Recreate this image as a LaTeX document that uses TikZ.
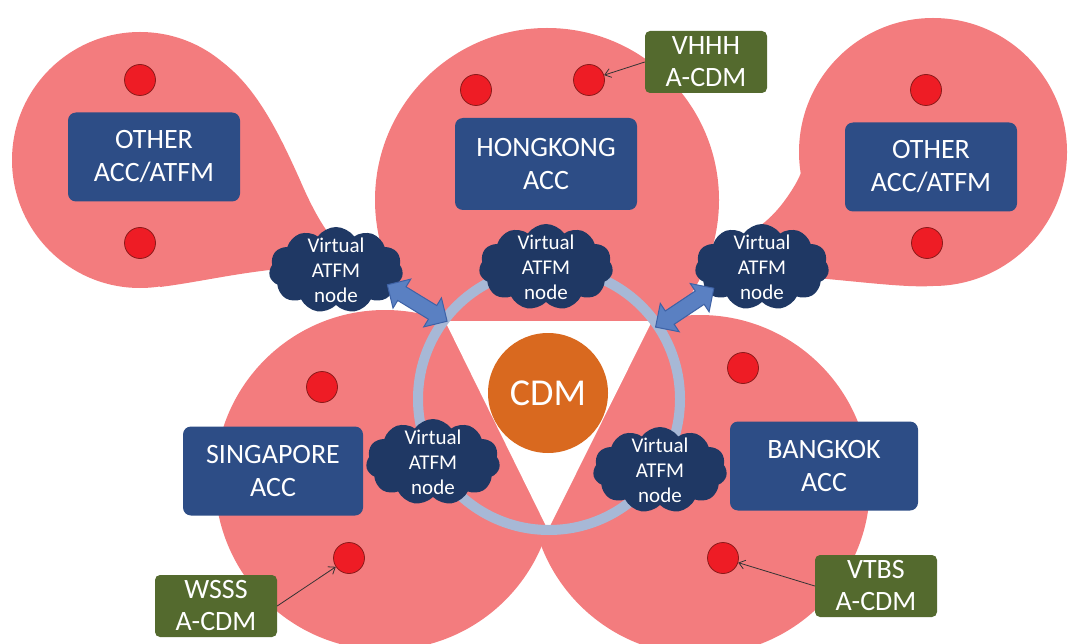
\documentclass[tikz,border=0pt]{standalone}
\usepackage{fontspec}
\setmainfont{Carlito}
\usepackage{tikz}
\usetikzlibrary{shapes.symbols,shapes.arrows,arrows.meta}
\definecolor{figpink}{HTML}{F37C7E}
\definecolor{figbox}{HTML}{2D4D86}
\definecolor{figcloud}{HTML}{1F3864}
\definecolor{figgreen}{HTML}{546A2E}
\definecolor{figorange}{HTML}{D9691F}
\definecolor{figdot}{HTML}{EE1C25}
\definecolor{figdotline}{HTML}{8B1A1A}
\definecolor{figring}{HTML}{A7B8D6}
\definecolor{figarrow}{HTML}{5A80C2}
\definecolor{figarrowline}{HTML}{3E62A6}
\tikzset{
  accbox/.style={rectangle,rounded corners=8,fill=figbox,text=white,align=center,
    inner sep=0,minimum height=89,font=\fontsize{28}{33}\selectfont},
  acdm/.style={rectangle,rounded corners=5,fill=figgreen,text=white,align=center,
    inner sep=0,minimum width=122,minimum height=62,font=\fontsize{28}{32}\selectfont},
  vnode/.style={cloud,cloud puffs=11,cloud puff arc=110,cloud ignores aspect,fill=figcloud,
    text=white,align=center,inner xsep=-16,inner ysep=-25,minimum width=134,minimum height=86,
    font=\fontsize{21}{25}\selectfont},
  dot/.style={circle,fill=figdot,draw=figdotline,line width=0.8,minimum size=31,inner sep=0},
  dblarrow/.style={double arrow,fill=figarrow,draw=figarrowline,line width=1,
    minimum height=70,inner xsep=0,inner ysep=7.5,double arrow head extend=9},
  ptr/.style={draw=black!80,line width=0.8,-{Straight Barb[length=6pt,width=9pt]}}
}

\begin{document}
\begin{tikzpicture}[x=1pt,y=-1pt]
    \useasboundingbox (0,0) rectangle (1070,644);
    % pink areas
    \fill[figpink] (140,160) circle[radius=128];
    \fill[figpink] (222,62) .. controls (258,88) and (282,140) .. (300,180)
      .. controls (315,215) and (330,240) .. (345,250) -- (290,268)
      .. controls (240,272) and (200,282) .. (160,287) -- (140,160) -- cycle;
    \fill[figpink] (933,152) circle[radius=134];
    \fill[figpink] (845,52) .. controls (822,90) and (815,150) .. (795,185)
      .. controls (780,210) and (765,225) .. (745,235) -- (790,276)
      .. controls (850,280) and (900,288) .. (933,286) -- (933,152) -- cycle;
    \fill[figpink] (547,200) circle[radius=172];
    \fill[figpink] (385,480) circle[radius=170];
    \fill[figpink] (700,485) circle[radius=170];
    \fill[white] (445,321) -- (652,321) -- (548,530) -- cycle;
    % ring and links
    \node[circle,draw=figring,line width=10,minimum size=262,inner sep=0] (ring) at (549,399) {};
    \node[vnode] (lcloud) at (336,270) {Virtual\\ATFM\\node};
    \node[vnode] (hcloud) at (546,267) {Virtual\\ATFM\\node};
    \node[vnode] (rcloud) at (762,267) {Virtual\\ATFM\\node};
    \node[vnode] (scloud) at (433,462) {Virtual\\ATFM\\node};
    \node[vnode] (bcloud) at (660,470) {Virtual\\ATFM\\node};
    \path (lcloud.-18) -- (ring.143) node[dblarrow,sloped,midway] (larrow) {};
    \path (rcloud.-155) -- (ring.34) node[dblarrow,sloped,midway] (rarrow) {};
    \node[circle,fill=figorange,text=white,minimum size=120,inner sep=0,
      font=\fontsize{38}{40}\selectfont] (cdm) at (548,393) {CDM};
    % centres
    \node[accbox,minimum width=172] (lacc) at (154,157) {OTHER\\ACC/ATFM};
    \node[accbox,minimum width=182,minimum height=92] (hkacc) at (546,164) {HONGKONG\\ACC};
    \node[accbox,minimum width=172] (racc) at (931,167) {OTHER\\ACC/ATFM};
    \node[accbox,minimum width=180] (sgacc) at (273,471) {SINGAPORE\\ACC};
    \node[accbox,minimum width=188] (bkacc) at (824,466) {BANGKOK\\ACC};
    \foreach \n/\p in {od1/{140,80},od2/{140,243},od3/{926,90},od4/{927,243},
      hkd1/{476,90},hkd2/{589,80},sgd1/{322,387},sgd2/{349,558},bkd1/{743,368},bkd2/{723,558}}
      {\node[dot] (\n) at (\p) {};}
    % airports
    \node[acdm] (vhhh) at (706,62) {VHHH\\A-CDM};
    \node[acdm] (wsss) at (216,606) {WSSS\\A-CDM};
    \node[acdm] (vtbs) at (876,586) {VTBS\\A-CDM};
    \draw[ptr] (vhhh.west) -- (hkd2);
    \draw[ptr] (wsss.east) -- (sgd2);
    \draw[ptr] (vtbs.west) -- (bkd2);
\end{tikzpicture}
\end{document}
